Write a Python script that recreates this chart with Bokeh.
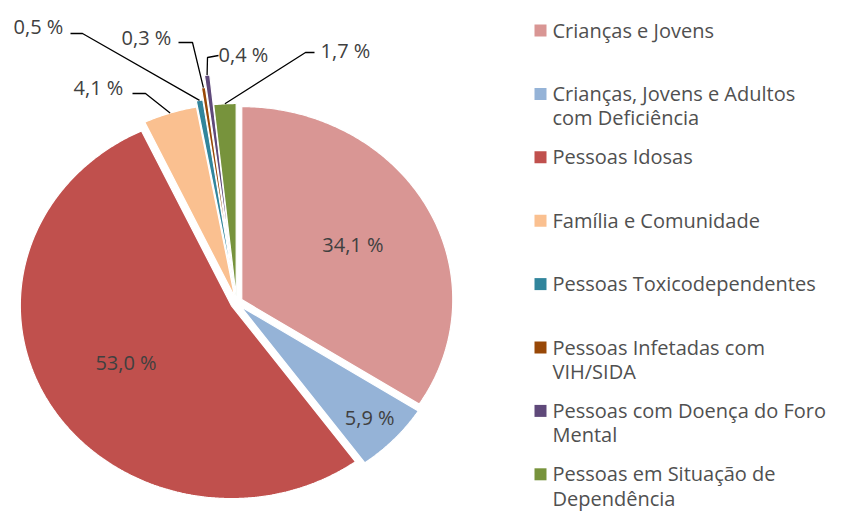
import numpy as np
from bokeh.plotting import figure
from bokeh.models import Range1d
from bokeh.core.properties import value
from bokeh.embed import file_html
from bokeh.resources import INLINE

# ---------------- data ----------------
categories = [
    "Crianças e Jovens",
    "Crianças, Jovens e Adultos com Deficiência",
    "Pessoas Idosas",
    "Família e Comunidade",
    "Pessoas Toxicodependentes",
    "Pessoas Infetadas com VIH/SIDA",
    "Pessoas com Doença do Foro Mental",
    "Pessoas em Situação de Dependência",
]
legend_labels = [
    "Crianças e Jovens",
    "Crianças, Jovens e Adultos\ncom Deficiência",
    "Pessoas Idosas",
    "Família e Comunidade",
    "Pessoas Toxicodependentes",
    "Pessoas Infetadas com\nVIH/SIDA",
    "Pessoas com Doença do Foro\nMental",
    "Pessoas em Situação de\nDependência",
]
values = [34.1, 5.9, 53.0, 4.1, 0.5, 0.3, 0.4, 1.7]
colors = ["#D99694", "#95B3D7", "#C0504D", "#FAC090",
          "#31859C", "#984807", "#5F497A", "#77933C"]

# ---------------- layout ----------------
W, H = 853, 515
CX, CY = 236, 302          # pie centre (page pixels)
RX, RY = 211, 193          # pie radii (image is slightly stretched)
explode = [6, 6, 6, 6, 12, 24, 36, 6]
inside_r = {0: 0.60, 1: 0.84, 2: 0.58}
# outside labels: index -> (label centre, leader start, elbow)
outside = {
    3: ((98, 87), (132, 93), (145, 93)),
    4: ((38, 26), (70, 33), (82, 33)),
    5: ((146, 37), (178, 42), (192, 42)),
    6: ((243, 54), (218, 55), (207, 57)),
    7: ((345, 50), (314, 52), (305, 52)),
}
LEG_SQ_X, LEG_TX_X, LEG_Y0, LEG_STEP = 540, 552, 30, 63.4
FONT = "Open Sans"
FS = "20px"
FS_LEG = "20px"

p = figure(width=W, height=H, output_backend="svg", toolbar_location=None,
           x_range=Range1d(0, W), y_range=Range1d(H, 0),
           min_border=0)
p.axis.visible = False
p.xgrid.visible = False
p.ygrid.visible = False
p.outline_line_color = None
p.background_fill_color = "white"
p.border_fill_color = "white"

total = sum(values)
starts = np.cumsum([0] + values[:-1]) / total * 2 * np.pi
ends = np.cumsum(values) / total * 2 * np.pi
mids = (starts + ends) / 2

xs, ys = [], []
for i in range(len(values)):
    a0, a1, am = starts[i], ends[i], mids[i]
    ox = CX + explode[i] * np.sin(am)
    oy = CY - explode[i] * np.cos(am)
    n = max(4, int(np.degrees(a1 - a0) * 2) + 2)
    t = np.linspace(a0, a1, n)
    px = [ox] + list(ox + RX * np.sin(t)) + [ox]
    py = [oy] + list(oy - RY * np.cos(t)) + [oy]
    xs.append(px)
    ys.append(py)

p.patches(xs, ys, fill_color=colors, line_color="white", line_width=1.2)

labels = [f"{v:.1f}".replace(".", ",") + " %" for v in values]

# inside labels
for i, rf in inside_r.items():
    am = mids[i]
    ox = CX + explode[i] * np.sin(am)
    oy = CY - explode[i] * np.cos(am)
    p.text(x=[ox + rf * RX * np.sin(am)], y=[oy - rf * RY * np.cos(am)],
           text=[labels[i]], text_align="center", text_baseline="middle",
           text_font=value(FONT), text_font_size=FS, text_color="#404040")

# outside labels with leader lines
for i, (lab, st, el) in outside.items():
    am = mids[i]
    ox = CX + explode[i] * np.sin(am)
    oy = CY - explode[i] * np.cos(am)
    tipx = ox + RX * np.sin(am)
    tipy = oy - RY * np.cos(am)
    p.line([st[0], el[0], tipx], [st[1], el[1], tipy], line_color="black",
           line_width=1.3)
    p.text(x=[lab[0]], y=[lab[1]], text=[labels[i]], text_align="center",
           text_baseline="middle", text_font=value(FONT),
           text_font_size=FS, text_color="#404040")

# legend
leg_y = [LEG_Y0 + k * LEG_STEP for k in range(len(categories))]
p.scatter(x=[LEG_SQ_X] * len(categories), y=leg_y, marker="square", size=12,
          fill_color=colors, line_color=None)
p.text(x=[LEG_TX_X] * len(categories), y=[y - 14 for y in leg_y],
       text=legend_labels, text_align="left", text_baseline="top",
       text_font=value(FONT), text_font_size=FS_LEG, text_color="#505050",
       text_line_height=0.9)

open("out.html", "w").write(file_html(p, INLINE))
